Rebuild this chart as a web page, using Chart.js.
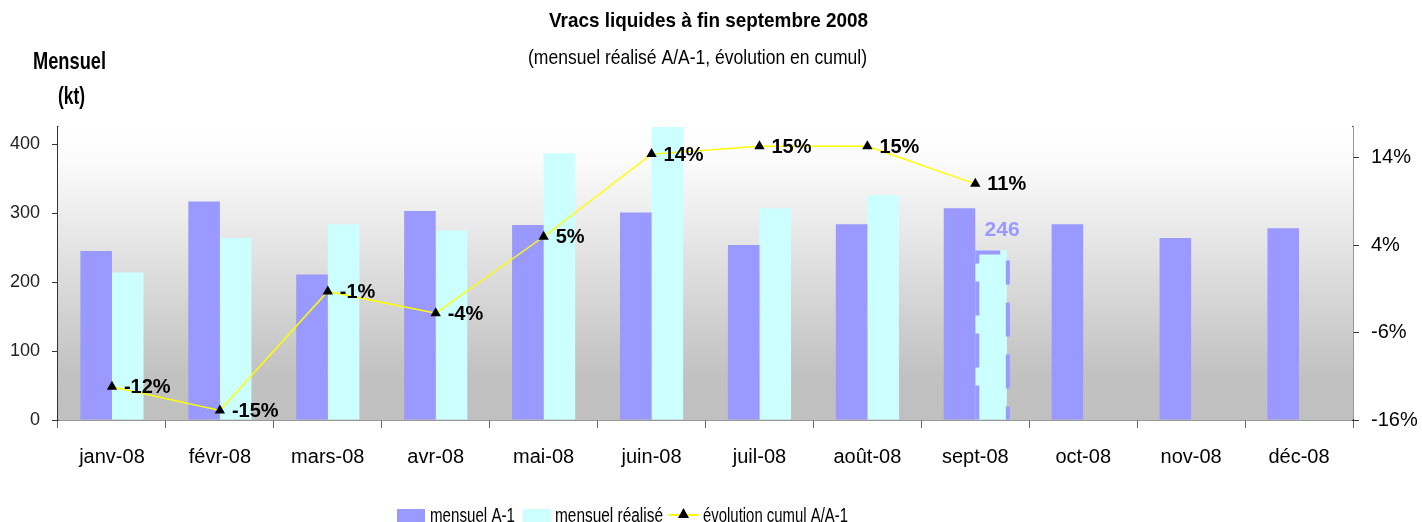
<!DOCTYPE html>
<html>
<head>
<meta charset="utf-8">
<script src="https://cdn.jsdelivr.net/npm/chart.js@4.4.1/dist/chart.umd.min.js"></script>
<style>
  html, body { margin: 0; padding: 0; background: #fff; }
  #wrap { width: 1422px; height: 522px; position: relative; }
</style>
</head>
<body>
<div id="wrap"><canvas id="chart"></canvas></div>
<script>
var FONT = '"Liberation Sans", Arial, sans-serif';

// data
var months = ["janv-08", "févr-08", "mars-08", "avr-08", "mai-08", "juin-08",
  "juil-08", "août-08", "sept-08", "oct-08", "nov-08", "déc-08"];
var mensuelA1 = [245, 317, 211, 303, 283, 301, 254, 284, 307, 284, 264, 278];
var mensuelRealise = [214, 264, 284, 275, 387, 425, 307, 326, 246, null, null, null];
var evolutionCumul = [-12.2, -14.9, -1.3, -3.8, 4.95, 14.4, 15.3, 15.3, 11.0, null, null, null];
var evolutionLabels = ["-12%", "-15%", "-1%", "-4%", "5%", "14%", "15%", "15%", "11%"];
var leftTicks = [0, 100, 200, 300, 400];
var rightTicks = [-16, -6, 4, 14];
var partialIndex = 8; // sept-08, month not finished

// draw text squeezed to a given width (the original uses a narrow font)
function fitText(ctx, text, x, y, font, width, align) {
  ctx.font = font;
  var s = width / ctx.measureText(text).width;
  ctx.save();
  ctx.translate(x, y);
  ctx.scale(s, 1);
  ctx.textAlign = align;
  ctx.fillText(text, 0, 0);
  ctx.restore();
}

// gradient background of the plot area
var bgPlugin = {
  id: "bg",
  beforeDatasetsDraw(chart) {
    var a = chart.chartArea, ctx = chart.ctx;
    var g = ctx.createLinearGradient(0, a.top, 0, a.bottom);
    g.addColorStop(0, "#ffffff");
    g.addColorStop(0.12, "#fbfbfb");
    g.addColorStop(0.85, "#c1c1c1");
    g.addColorStop(1, "#c0c0c0");
    ctx.save();
    ctx.fillStyle = g;
    ctx.fillRect(a.left, a.top, a.right - a.left, a.bottom - a.top);
    ctx.restore();
  }
};

// titles, line labels, partial bar and legend
var textPlugin = {
  id: "texts",
  afterDatasetsDraw(chart) {
    var ctx = chart.ctx;
    ctx.save();
    ctx.fillStyle = "#000";
    ctx.textBaseline = "middle";
    fitText(ctx, "Vracs liquides à fin septembre 2008", 708.5, 21, "bold 21px " + FONT, 319, "center");
    fitText(ctx, "(mensuel réalisé A/A-1, évolution en cumul)", 697.5, 58, "21px " + FONT, 339, "center");
    fitText(ctx, "Mensuel", 69.5, 63, "bold 23px " + FONT, 73, "center");
    fitText(ctx, "(kt)", 71.5, 98, "bold 23px " + FONT, 27, "center");

    // dashed outline on the partial month
    var bar = chart.getDatasetMeta(1).data[partialIndex];
    var w = bar.width;
    ctx.strokeStyle = "#9999ff";
    ctx.lineWidth = 4;
    ctx.setLineDash([34, 18]);
    ctx.beginPath();
    ctx.moveTo(bar.x - w / 2 + 2, bar.base);
    ctx.lineTo(bar.x - w / 2 + 2, bar.y + 2);
    ctx.lineTo(bar.x + w / 2 - 2, bar.y + 2);
    ctx.lineTo(bar.x + w / 2 + 1, bar.y + 2);
    ctx.stroke();
    ctx.setLineDash([34, 18]);
    ctx.lineDashOffset = 10;
    ctx.beginPath();
    ctx.moveTo(bar.x + w / 2 + 1, bar.y + 10);
    ctx.lineTo(bar.x + w / 2 + 1, bar.base);
    ctx.stroke();
    ctx.setLineDash([]);
    ctx.textAlign = "center";
    ctx.font = "bold 21px " + FONT;
    ctx.fillStyle = "#9999ff";
    ctx.fillText(String(mensuelRealise[partialIndex]), bar.x + 11, bar.y - 20);

    // evolution labels
    ctx.fillStyle = "#000";
    ctx.textAlign = "left";
    ctx.font = "bold 20px " + FONT;
    chart.getDatasetMeta(2).data.forEach(function (p, i) {
      if (evolutionLabels[i]) ctx.fillText(evolutionLabels[i], p.x + 12, p.y + 1);
    });

    // legend
    var ly = 516;
    ctx.fillStyle = "#9999ff";
    ctx.fillRect(397, 509, 28, 14);
    ctx.fillStyle = "#000";
    fitText(ctx, "mensuel A-1", 430, ly, "20px " + FONT, 85, "left");
    ctx.fillStyle = "#ccffff";
    ctx.fillRect(523, 509, 28, 14);
    ctx.fillStyle = "#000";
    fitText(ctx, "mensuel réalisé", 555, ly, "20px " + FONT, 108, "left");
    ctx.strokeStyle = "#ffff00";
    ctx.lineWidth = 2;
    ctx.beginPath();
    ctx.moveTo(669, ly - 1);
    ctx.lineTo(698, ly - 1);
    ctx.stroke();
    ctx.fillStyle = "#000";
    ctx.beginPath();
    ctx.moveTo(683.5, ly - 8);
    ctx.lineTo(689, ly + 2);
    ctx.lineTo(678, ly + 2);
    ctx.closePath();
    ctx.fill();
    fitText(ctx, "évolution cumul A/A-1", 703, ly, "20px " + FONT, 145, "left");
    ctx.restore();
  }
};

new Chart(document.getElementById("chart"), {
  type: "bar",
  data: {
    labels: months,
    datasets: [
      {
        label: "mensuel A-1",
        data: mensuelA1,
        backgroundColor: "#9999ff",
        yAxisID: "y",
        order: 2,
        categoryPercentage: 0.585,
        barPercentage: 1
      },
      {
        label: "mensuel réalisé",
        data: mensuelRealise,
        backgroundColor: "#ccffff",
        yAxisID: "y",
        order: 2,
        categoryPercentage: 0.585,
        barPercentage: 1
      },
      {
        type: "line",
        label: "évolution cumul A/A-1",
        data: evolutionCumul,
        yAxisID: "y2",
        borderColor: "#ffff00",
        borderWidth: 1.5,
        pointStyle: "triangle",
        pointRadius: 6,
        pointBackgroundColor: "#000",
        pointBorderColor: "#000",
        pointBorderWidth: 0,
        tension: 0,
        spanGaps: false,
        order: 1
      }
    ]
  },
  options: {
    responsive: true,
    maintainAspectRatio: false,
    animation: false,
    layout: { padding: { top: 127, left: 0, right: 0, bottom: 0 } },
    plugins: {
      legend: { display: false },
      tooltip: { enabled: false }
    },
    scales: {
      x: {
        offset: true,
        grid: {
          offset: true,
          drawOnChartArea: false,
          tickLength: 8,
          color: "#666"
        },
        border: { color: "#333", width: 1.5 },
        ticks: {
          color: "#000",
          font: { family: FONT, size: 20 },
          padding: 17,
          maxRotation: 0
        },
        afterFit(scale) { scale.height = 102; }
      },
      y: {
        position: "left",
        min: 0,
        max: 425,
        grid: { drawOnChartArea: false, tickLength: 6, color: "#333" },
        border: { color: "#333", width: 1.5 },
        ticks: {
          color: "#222",
          font: { family: FONT, size: 18 },
          padding: 12
        },
        afterBuildTicks(scale) {
          scale.ticks = leftTicks.map(function (v) { return { value: v }; });
        },
        afterFit(scale) { scale.width = 58; }
      },
      y2: {
        position: "right",
        min: -16,
        max: 17.5,
        grid: { drawOnChartArea: false, tickLength: 6, color: "#333" },
        border: { color: "#333", width: 1.5 },
        ticks: {
          color: "#000",
          font: { family: FONT, size: 20 },
          padding: 12,
          callback: function (v) { return v + "%"; }
        },
        afterBuildTicks(scale) {
          scale.ticks = rightTicks.map(function (v) { return { value: v }; });
        },
        afterFit(scale) { scale.width = 69; }
      }
    }
  },
  plugins: [bgPlugin, textPlugin]
});
</script>
</body>
</html>
